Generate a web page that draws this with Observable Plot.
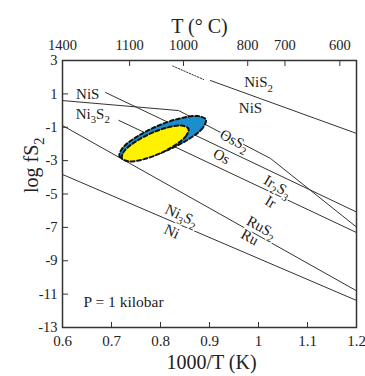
<!DOCTYPE html>
<html><head><meta charset="utf-8">
<script src="https://cdn.jsdelivr.net/npm/d3@7"></script>
<script src="https://cdn.jsdelivr.net/npm/@observablehq/plot@0.6"></script>
<style>
body{margin:0;background:#fff;}
#chart svg{display:block;}
#chart svg, #chart svg text, #chart svg tspan{font-family:"Liberation Serif",serif !important;}
</style></head><body><div id="chart"></div>
<script>
// ---- data ----
const xTicks = [0.6, 0.7, 0.8, 0.9, 1, 1.1, 1.2];
const xTickLabels = ["0.6", "0.7", "0.8", "0.9", "1", "1.1", "1.2"];
const yTicks = [3, 1, -1, -3, -5, -7, -9, -11, -13];
const yTickLabels = ["3", "1", "-1", "-3", "-5", "-7", "-9", "-11", "-13"];
const topTickPositions = [0.6, 0.737, 0.847, 0.978, 1.054, 1.166];
const topTickLabels = ["1400", "1100", "1000", "800", "700", "600"];

const lineNiS2NiSDotted = [[0.825, 2.67], [0.888, 1.86]];
const lineNiS2NiS = [[0.902, 1.80], [1.2, -1.37]];
const lineNiSNi3S2 = [[0.6, 0.60], [0.837, 0.0], [1.0245, -2.87], [1.2, -6.98]];
const lineOsS2Os = [[0.688, 1.08], [1.2, -6.08]];
const lineIr2S3Ir = [[0.715, -0.59], [1.2, -7.31]];
const lineRuS2Ru = [[0.6, -0.9], [1.2, -10.8]];
const lineNi3S2Ni = [[0.6, -3.83], [1.2, -11.38]];

const blueField = [[0.8926,-0.541],[0.8859,-1.050],[0.8574,-1.715],[0.8148,-2.362],[0.7692,-2.818],[0.7331,-2.956],
  [0.7162,-2.746],[0.7229,-2.237],[0.7514,-1.572],[0.7940,-0.924],[0.8396,-0.469],[0.8757,-0.331]];
const yellowField = [[0.8570,-1.086],[0.8525,-1.506],[0.8309,-2.051],[0.7983,-2.575],[0.7630,-2.938],[0.7349,-3.046],
  [0.7213,-2.863],[0.7257,-2.440],[0.7473,-1.895],[0.7799,-1.371],[0.8152,-1.008],[0.8433,-0.900]];

const labelText = ["NiS", "Ni_3S_2", "NiS_2", "NiS", "OsS_2", "Os", "Ir_2S_3", "Ir", "RuS_2", "Ru", "Ni_3S_2", "Ni"];
const labelX = [0.6516, 0.6617, 1.0, 0.9837, 0.951, 0.9246, 1.0388, 1.0245, 1.0062, 0.982, 0.843, 0.823];
const labelY = [0.963, -0.235, 1.68, 0.124, -1.79, -2.75, -4.55, -5.48, -7.0, -7.6, -6.29, -7.25];
const noteText = ["P = 1 kilobar"];
const noteX = [0.643];
const noteY = [-11.5];

// ---- styles ----
const labelAngles = [0, 0, 0, 0, 28, 28, 31, 31, 29, 29, 25, 25];
const labels = labelText.map((t, i) => ({t, x: labelX[i], y: labelY[i], a: labelAngles[i]}));
const notes = noteText.map((t, i) => ({t, x: noteX[i], y: noteY[i]}));
const ink = "#333";
const px = d => d[0], py = d => d[1];
const ln = (data, extra = {}) => Plot.line(data, {x: px, y: py, stroke: ink, strokeWidth: 1, ...extra});

const chart = Plot.plot({
  width: 365, height: 376,
  marginLeft: 62, marginRight: 9, marginTop: 60, marginBottom: 49,
  x: {domain: [0.6, 1.2]},
  y: {domain: [-13, 3]},
  style: {fontSize: "14px", color: "#222", background: "white"},
  marks: [
    ln(lineNiS2NiSDotted, {strokeDasharray: "1.5,1.5"}),
    ln(lineNiS2NiS),
    ln(lineNiSNi3S2),
    ln(lineOsS2Os),
    ln(lineIr2S3Ir),
    ln(lineRuS2Ru),
    ln(lineNi3S2Ni),
    Plot.line(blueField, {x: px, y: py, curve: "catmull-rom-closed", fill: "#1b8fcc", stroke: "#111", strokeWidth: 2, strokeDasharray: "4,2.5"}),
    Plot.line(yellowField, {x: px, y: py, curve: "catmull-rom-closed", fill: "#fff200", stroke: "#111", strokeWidth: 2, strokeDasharray: "4,2.5"}),
    Plot.text(labels, {x: "x", y: "y", text: "t", rotate: "a", fontSize: 15, fill: "#222", stroke: "white", strokeWidth: 3}),
    Plot.text(notes, {x: "x", y: "y", text: "t", textAnchor: "start", fontSize: 15.5, fill: "#222"}),
    Plot.frame({stroke: ink, strokeWidth: 1.5}),
    // tick marks (inward)
    Plot.axisX({anchor: "bottom", ticks: xTicks, tickSize: 5, dy: -5, fill: "none", stroke: ink, label: null}),
    Plot.axisX({anchor: "top", ticks: topTickPositions, tickSize: 5, dy: 5, fill: "none", stroke: ink, label: null}),
    Plot.axisY({anchor: "left", ticks: yTicks, tickSize: 6, dx: 6, fill: "none", stroke: ink, label: null}),
    // tick labels
    Plot.axisX({anchor: "bottom", ticks: xTicks, tickSize: 0, tickPadding: 8, fontSize: 15, fill: "#222",
      tickFormat: d => xTickLabels[xTicks.indexOf(d)], label: null}),
    Plot.axisX({anchor: "top", ticks: topTickPositions, tickSize: 0, tickPadding: 11, fontSize: 14.5, fill: "#222",
      tickFormat: d => topTickLabels[topTickPositions.indexOf(d)], label: null}),
    Plot.axisY({anchor: "left", ticks: yTicks, tickSize: 0, tickPadding: 5, fontSize: 14.5, fill: "#222",
      tickFormat: d => yTickLabels[yTicks.indexOf(d)], label: null}),
    // axis titles
    Plot.text(["1000/T (K)"], {frameAnchor: "bottom", dy: 41, dx: 2, fontSize: 20, fill: "#222"}),
    Plot.text(["T (° C)"], {frameAnchor: "top", dy: -42, dx: -10, fontSize: 20, fill: "#222"}),
    Plot.text(["log fS_2"], {frameAnchor: "left", dx: -31, dy: -1, rotate: -90, fontSize: 20, fill: "#222"})
  ]
});
document.getElementById("chart").appendChild(chart);

// subscripts: "_d" -> subscript digit
chart.querySelectorAll("text").forEach(t => {
  const s = t.textContent;
  if (!s.includes("_")) return;
  const fs = parseFloat(getComputedStyle(t).fontSize) || 14;
  const shift = fs * 0.28;
  while (t.firstChild) t.removeChild(t.firstChild);
  const parts = s.split(/(_\d)/).filter(p => p);
  let sub = false;
  parts.forEach(p => {
    const ts = document.createElementNS("http://www.w3.org/2000/svg", "tspan");
    if (p[0] === "_") {
      ts.textContent = p.slice(1);
      ts.setAttribute("font-size", (fs * 0.72).toFixed(1));
      if (!sub) ts.setAttribute("dy", shift.toFixed(1));
      sub = true;
    } else {
      ts.textContent = p;
      if (sub) ts.setAttribute("dy", (-shift).toFixed(1));
      sub = false;
    }
    t.appendChild(ts);
  });
});
</script></body></html>
